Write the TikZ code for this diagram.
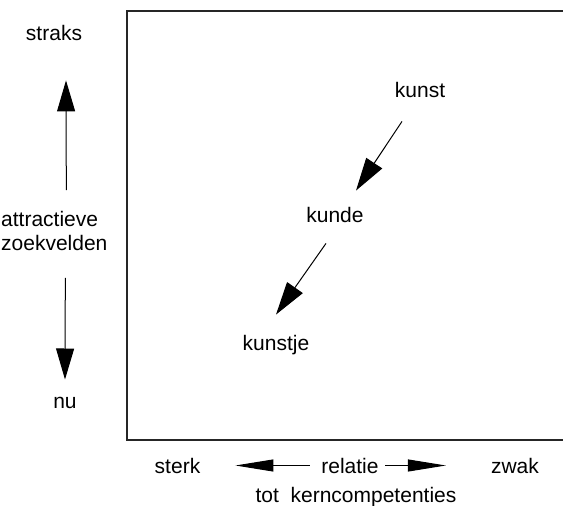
\documentclass[tikz,border=0pt]{standalone}
\usepackage{fontspec}
\setmainfont{Liberation Sans}
\usetikzlibrary{arrows.meta}
\begin{document}
\begin{tikzpicture}[x=1pt,y=-1pt,
  lbl/.style={inner sep=0pt,font=\fontsize{21}{24}\selectfont},
  varr/.style={line width=1pt,-{Triangle[length=31pt,width=18pt]}},
  darr/.style={line width=1pt,-{Triangle[length=33pt,width=19pt]}},
  harr/.style={line width=1pt,-{Triangle[length=38pt,width=12pt]}}]
\useasboundingbox (0,0) rectangle (563,506);
% frame (open on the right)
\draw[line width=2pt,black!85] (566,11) -- (126.5,11) -- (126.5,440) -- (566,440);
% left axis
\node[lbl,anchor=base] (straks) at (54,40) {straks};
\node[lbl,anchor=north west,align=left] (az) at (1,211) {attractieve\\zoekvelden};
\node[lbl,anchor=base] (nu) at (65,408) {nu};
\draw[varr] ([shift={(12,-21)}]az.north) -- ([shift={(12,40)}]straks.south);
\draw[varr] ([shift={(11,27)}]az.south) -- ([shift={(0,-17)}]nu.north);
% inside
\node[lbl,anchor=base] (kunst) at (420,97) {kunst};
\node[lbl,anchor=base] (kunde) at (335,222) {kunde};
\node[lbl,anchor=base] (kunstje) at (276,350) {kunstje};
\draw[darr] ([shift={(-18,24)}]kunst.south) -- ([shift={(21,-16)}]kunde.north);
\draw[darr] ([shift={(-9,21)}]kunde.south) -- ([shift={(0,-20)}]kunstje.north);
% bottom axis
\node[lbl,anchor=base] (sterk) at (177.5,473) {sterk};
\node[lbl,anchor=base] (relatie) at (350,473) {relatie};
\node[lbl,anchor=base] (zwak) at (515,473) {zwak};
\node[lbl,anchor=base] (tot) at (356,502) {tot\ \ kerncompetenties};
\draw[harr,shorten <=11.5pt,shorten >=35pt] (relatie.west) -- (sterk.east);
\draw[harr,shorten <=6.5pt,shorten >=45pt] (relatie.east) -- (zwak.west);
\end{tikzpicture}
\end{document}
